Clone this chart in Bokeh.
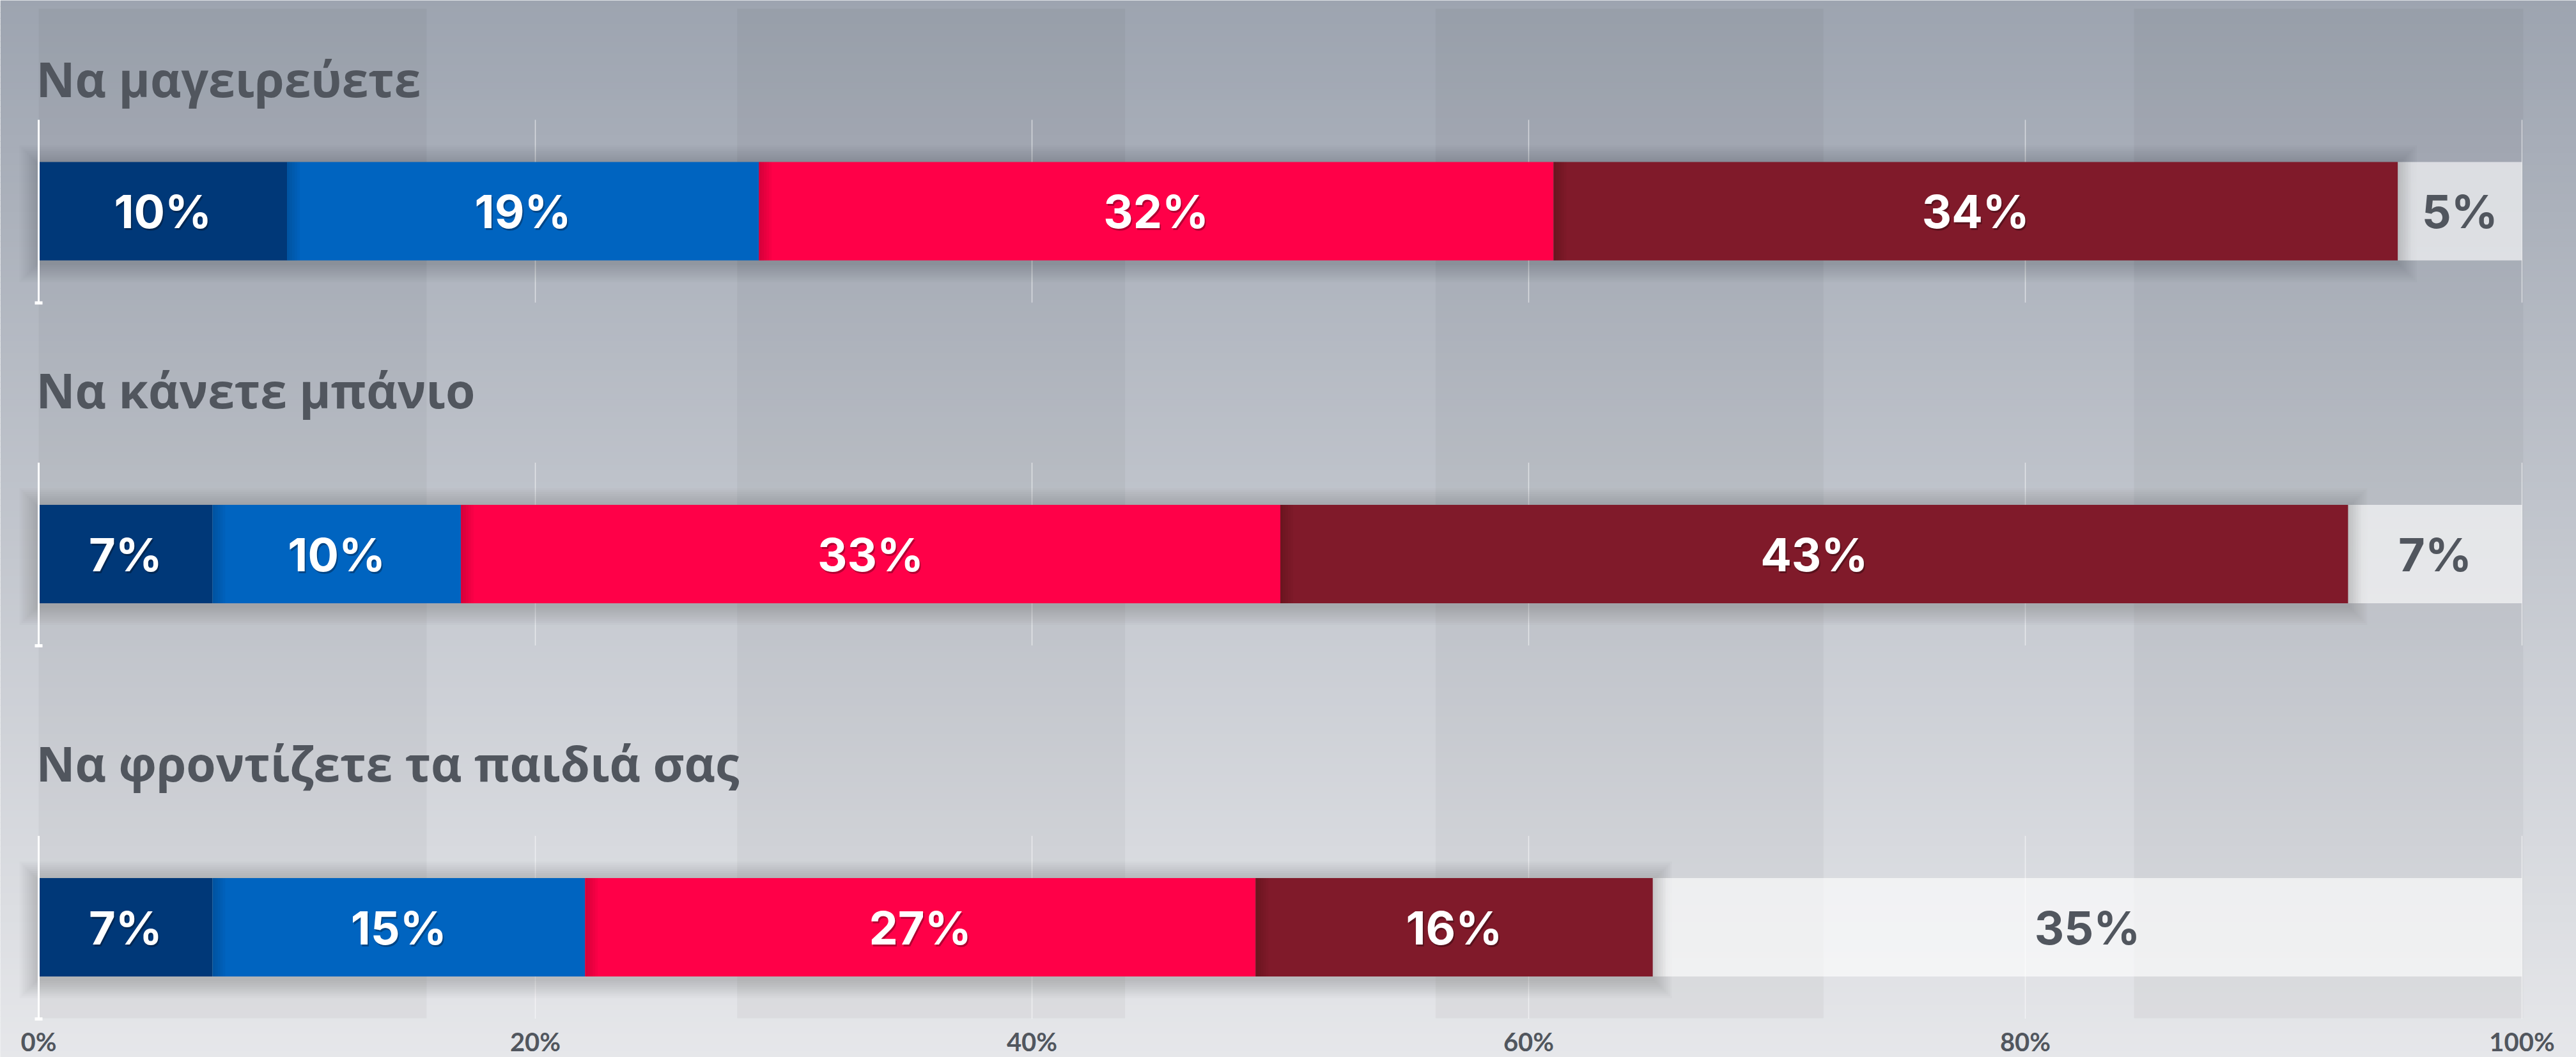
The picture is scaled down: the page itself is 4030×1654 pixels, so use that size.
import numpy as np
from bokeh.plotting import figure
from bokeh.models import Range1d
from bokeh.core.properties import value
from bokeh.embed import file_html
from bokeh.resources import INLINE

# ---------------- data ----------------
questions = ["Να μαγειρεύετε", "Να κάνετε μπάνιο", "Να φροντίζετε τα παιδιά σας"]
answers_1 = [10, 19, 32, 34, 5]
answers_2 = [7, 10, 33, 43, 7]
answers_3 = [7, 15, 27, 16, 35]
segment_colors = ["#003878", "#0064c0", "#ff0048", "#801a2a", "#ffffff"]
segment_alpha = [1, 1, 1, 1, 0.62]
label_colors = ["#ffffff", "#ffffff", "#ffffff", "#ffffff", "#51565e"]
tick_values = [0, 20, 40, 60, 80, 100]
tick_labels = ["0%", "20%", "40%", "60%", "80%", "100%"]

# ---------------- layout ----------------
W, H = 4030, 1654
X0_PX = 60
X1_PX = 3945
PXU = (X1_PX - X0_PX) / 100.0


def px(d):
    return d / PXU


p = figure(width=W, height=H,
           x_range=Range1d(-X0_PX / PXU, (W - X0_PX) / PXU),
           y_range=Range1d(H, 0),
           x_axis_type=None, y_axis_type=None,
           toolbar_location=None, output_backend="svg",
           min_border=0, outline_line_color=None)
p.background_fill_color = "#e6e7ea"
p.border_fill_color = "#e6e7ea"

# background gradient
n = 180
edges = np.linspace(0, H, n + 1)
top_c = np.array([157, 164, 176])
bot_c = np.array([230, 231, 234])
cols = []
for i in range(n):
    t = ((edges[i] + edges[i + 1]) / 2) / float(H)
    c = top_c + (bot_c - top_c) * t
    cols.append("#%02x%02x%02x" % tuple(int(round(v)) for v in c))
xl, xr = -X0_PX / PXU, (W - X0_PX) / PXU
p.quad(left=xl, right=xr, top=edges[:-1], bottom=edges[1:] + 1.0,
       fill_color=cols, line_color=None)

# decorative vertical bands
band_l = [0, 28.125, 56.25, 84.375]
band_r = [15.625, 43.75, 71.875, 100.05]
p.quad(left=band_l, right=band_r, top=13, bottom=1593,
       fill_color="black", fill_alpha=0.035, line_color=None)

panel_vals = [answers_1, answers_2, answers_3]
bar_center = [330, 866.5, 1450.5]
title_center = [122, 609, 1193]
HB = 77
AX = 143

for i, vals in enumerate(panel_vals):
    yc = bar_center[i]
    left = np.concatenate([[0], np.cumsum(vals)[:-1]])
    right = np.cumsum(vals)
    # gridlines
    p.segment(x0=tick_values[1:], y0=yc - AX, x1=tick_values[1:], y1=yc + AX,
              line_color="white", line_alpha=0.55, line_width=1.5)
    # drop shadow of the coloured part
    end = right[3]
    for k in range(1, 11):
        e = 3 * k
        p.quad(left=-px(e), right=end + px(e), top=yc - HB - e + 4, bottom=yc + HB + e + 4,
               fill_color="black", fill_alpha=0.017, line_color=None)
    # bars
    p.quad(left=left, right=right, top=yc - HB, bottom=yc + HB,
           fill_color=segment_colors, fill_alpha=segment_alpha, line_color=None)
    # shadows cast on following segment
    for j in range(1, 5):
        for k in range(1, 6):
            p.quad(left=left[j], right=left[j] + px(4 * k), top=yc - HB, bottom=yc + HB,
                   fill_color="black", fill_alpha=0.03 if j < 4 else 0.02, line_color=None)
    # axis line
    p.segment(x0=0, y0=yc - AX, x1=0, y1=yc + AX, line_color="white", line_width=3)
    p.quad(left=-px(6), right=px(6), top=yc + AX - 2, bottom=yc + AX + 3,
           fill_color="white", line_color=None)
    # title
    p.text(x=[0], y=[title_center[i]], text=[questions[i]],
           text_font=value("Open Sans"), text_font_style="bold", text_font_size="75px",
           text_color="#51565e", text_baseline="middle", text_align="left", x_offset=-4)
    # value labels
    centers = (left + right) / 2
    labels = ["%d%%" % v for v in vals]
    p.text(x=list(centers[:4]), y=[yc] * 4, text=labels[:4],
           text_font=value("Inter"), text_font_style="bold", text_font_size="72px",
           text_color="black", text_alpha=0.3, text_baseline="middle", text_align="center",
           x_offset=2, y_offset=3)
    p.text(x=list(centers), y=[yc] * 5, text=labels,
           text_font=value("Inter"), text_font_style="bold", text_font_size="72px",
           text_color=label_colors, text_baseline="middle", text_align="center")

# tick labels
p.text(x=tick_values, y=[1629] * len(tick_values), text=tick_labels,
       text_font=value("Lato"), text_font_style="bold", text_font_size="40px",
       text_color="#51565e", text_baseline="middle", text_align="center")

with open("out.html", "w", encoding="utf-8") as f:
    f.write(file_html(p, INLINE))
